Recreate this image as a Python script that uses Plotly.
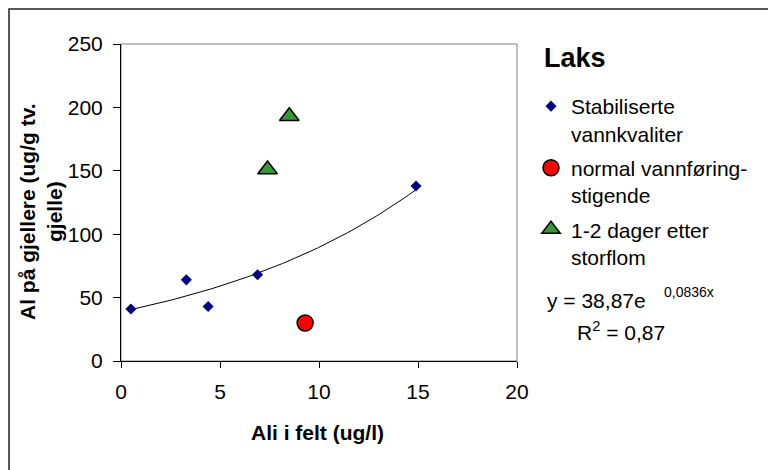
import numpy as np
import plotly.graph_objects as go

# ---- data ----
stab_x = [0.5, 3.3, 4.4, 6.9, 14.9]
stab_y = [41, 64, 43, 68, 138]
normal_x = [9.3]
normal_y = [30]
flom_x = [7.4, 8.5]
flom_y = [151, 193]
trend_a = 38.87
trend_b = 0.0836
x_ticks = [0, 5, 10, 15, 20]
y_ticks = [0, 50, 100, 150, 200, 250]

W, H = 776, 470
OFF = 8  # page body margin: figure pixel = screen pixel - OFF
L, R, T, B = 121 - OFF, 517 - OFF, 44 - OFF, 361 - OFF  # plot-area edges (figure px)
FONT = "Liberation Sans, Arial, sans-serif"


def px2x(px):  # screen px -> paper x
    return (px - OFF - L) / (R - L)


def py2y(py):  # screen px -> paper y
    return (B - (py - OFF)) / (B - T)


fig = go.Figure()
tx = np.linspace(min(stab_x), max(stab_x), 80)
fig.add_trace(go.Scatter(x=tx, y=trend_a * np.exp(trend_b * tx), mode="lines",
                         line=dict(color="black", width=1), showlegend=False,
                         hoverinfo="skip"))
fig.add_trace(go.Scatter(x=stab_x, y=stab_y, mode="markers", legendgroup="a",
                         name="Stabiliserte<br>vannkvaliter",
                         marker=dict(symbol="diamond", size=8.5, color="#000080",
                                     line=dict(width=0))))
fig.add_trace(go.Scatter(x=normal_x, y=normal_y, mode="markers", legendgroup="b",
                         name="normal vannføring-<br>stigende",
                         marker=dict(symbol="circle", size=16, color="#FF0000",
                                     line=dict(color="black", width=1.5))))
fig.add_trace(go.Scatter(x=flom_x, y=flom_y, mode="markers", legendgroup="c",
                         name="1-2 dager etter<br>storflom",
                         marker=dict(symbol="triangle-up", size=17, color="#339933",
                                     line=dict(color="black", width=1.5))))

fig.update_layout(
    width=W, height=H,
    margin=dict(l=L, r=W - R, t=T, b=H - B, pad=0),
    paper_bgcolor="white", plot_bgcolor="white",
    font=dict(family=FONT, size=20, color="black"),
    legend=dict(
        x=px2x(531), y=py2y(86), xanchor="left", yanchor="top",
        font=dict(size=21, family=FONT),
        valign="top", tracegroupgap=4, bgcolor="rgba(0,0,0,0)",
        itemsizing="trace",
    ),
    xaxis=dict(range=[0, 20], tickvals=x_ticks, ticks="outside", ticklen=6,
               tickcolor="black", showline=True, linecolor="black", linewidth=1,
               showgrid=False, zeroline=False, tickfont=dict(size=21),
               ticklabelstandoff=6),
    yaxis=dict(range=[0, 250], tickvals=y_ticks, ticks="outside", ticklen=7,
               tickcolor="black", showline=True, linecolor="black", linewidth=1,
               showgrid=False, zeroline=False, tickfont=dict(size=21),
               ticklabelstandoff=6),
    shapes=[
        dict(type="rect", xref="paper", yref="paper", x0=0, x1=1, y0=0, y1=1,
             line=dict(color="#808080", width=1), layer="below"),
        dict(type="rect", xref="paper", yref="paper",
             x0=px2x(9), x1=px2x(900), y0=py2y(9), y1=py2y(600),
             line=dict(color="#222222", width=1.5)),
    ],
    annotations=[
        dict(text="<b>Laks</b>", xref="paper", yref="paper",
             x=px2x(542), y=py2y(58), xanchor="left", yanchor="middle",
             showarrow=False, font=dict(size=27)),
        dict(text="<b>Al på gjellere (ug/g tv.<br>gjelle)</b>", textangle=-90,
             xref="paper", yref="paper", x=px2x(41), y=py2y(212),
             xanchor="center", yanchor="middle", showarrow=False,
             font=dict(size=21)),
        dict(text="<b>Ali i felt (ug/l)</b>", xref="paper", yref="paper",
             x=px2x(317), y=py2y(432), xanchor="center", yanchor="middle",
             showarrow=False, font=dict(size=21)),
        dict(text="y = 38,87e", xref="paper", yref="paper",
             x=px2x(545), y=py2y(300), xanchor="left", yanchor="middle",
             showarrow=False, font=dict(size=21)),
        dict(text="0,0836x", xref="paper", yref="paper",
             x=px2x(662), y=py2y(292), xanchor="left", yanchor="middle",
             showarrow=False, font=dict(size=14)),
        dict(text="R<sup>2</sup> = 0,87", xref="paper", yref="paper",
             x=px2x(575), y=py2y(331), xanchor="left", yanchor="middle",
             showarrow=False, font=dict(size=21)),
    ],
)

fig.write_html("out.html")
